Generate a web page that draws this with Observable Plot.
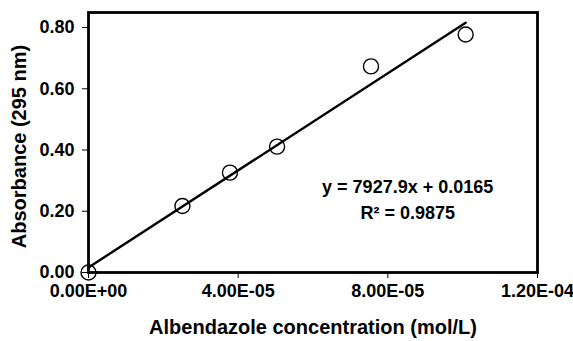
<!DOCTYPE html>
<html>
<head>
<meta charset="utf-8">
<script src="https://cdn.jsdelivr.net/npm/d3@7"></script>
<script src="https://cdn.jsdelivr.net/npm/@observablehq/plot@0.6"></script>
<style>
  html, body { margin: 0; padding: 0; background: #fff; }
  svg { display: block; }
</style>
</head>
<body>
<div id="chart"></div>
<script>
// Data
const concentration = [0, 2.51e-5, 3.78e-5, 5.04e-5, 7.55e-5, 1.008e-4]; // mol/L
const absorbance   = [0.000, 0.217, 0.326, 0.411, 0.673, 0.777];

// Linear fit from the chart's equation
const slope = 7927.9;
const intercept = 0.0165;
const fitRangeX = [0, 1.008e-4];

// Ticks
const xTicks = [0, 4e-5, 8e-5, 1.2e-4];
const xTickLabels = ["0.00E+00", "4.00E-05", "8.00E-05", "1.20E-04"];
const yTicks = [0, 0.2, 0.4, 0.6, 0.8];
const yTickLabels = ["0.00", "0.20", "0.40", "0.60", "0.80"];

const xTitle = "Albendazole concentration (mol/L)";
const yTitle = "Absorbance (295 nm)";
const eqLines = ["y = 7927.9x + 0.0165", "R² = 0.9875"];
const eqPos = {x: 8.53e-5, y: [0.277, 0.192]};

const points = concentration.map((c, i) => ({x: c, y: absorbance[i]}));
const fit = fitRangeX.map(x => ({x, y: slope * x + intercept}));
const eqData = eqLines.map((t, i) => ({x: eqPos.x, y: eqPos.y[i], t}));

const font = "'Liberation Sans', Arial, sans-serif";

const chart = Plot.plot({
  width: 573,
  height: 341,
  marginLeft: 88,
  marginRight: 36,
  marginTop: 12,
  marginBottom: 69,
  style: {fontFamily: font, fontWeight: "bold", background: "#fff", color: "#000"},
  x: {domain: [0, 1.2e-4]},
  y: {domain: [0, 0.849]},
  marks: [
    Plot.frame({stroke: "#000", strokeWidth: 2.8}),
    Plot.axisX({
      ticks: xTicks,
      tickFormat: d => xTickLabels[xTicks.indexOf(d)],
      tickSize: 6, tickPadding: 6, tickStrokeWidth: 1.6,
      fontSize: 18, label: null
    }),
    Plot.axisY({
      ticks: yTicks,
      tickFormat: d => yTickLabels[yTicks.findIndex(t => Math.abs(t - d) < 1e-9)],
      tickSize: 6, tickPadding: 8, tickStrokeWidth: 1.6,
      fontSize: 18, label: null
    }),
    Plot.text([xTitle], {frameAnchor: "bottom", lineAnchor: "middle", dy: 55, fontSize: 20, fontWeight: "bold"}),
    Plot.text([yTitle], {frameAnchor: "left", textAnchor: "middle", lineAnchor: "middle", dx: -69, dy: 4, rotate: -90, fontSize: 20, fontWeight: "bold"}),
    Plot.line(fit, {x: "x", y: "y", stroke: "#000", strokeWidth: 2.4}),
    Plot.dot(points, {x: "x", y: "y", r: 7.5, stroke: "#000", strokeWidth: 1.4, fill: "none"}),
    Plot.text(eqData, {x: "x", y: "y", text: "t", fontSize: 18, fontWeight: "bold"})
  ]
});
document.getElementById("chart").appendChild(chart);
</script>
</body>
</html>
